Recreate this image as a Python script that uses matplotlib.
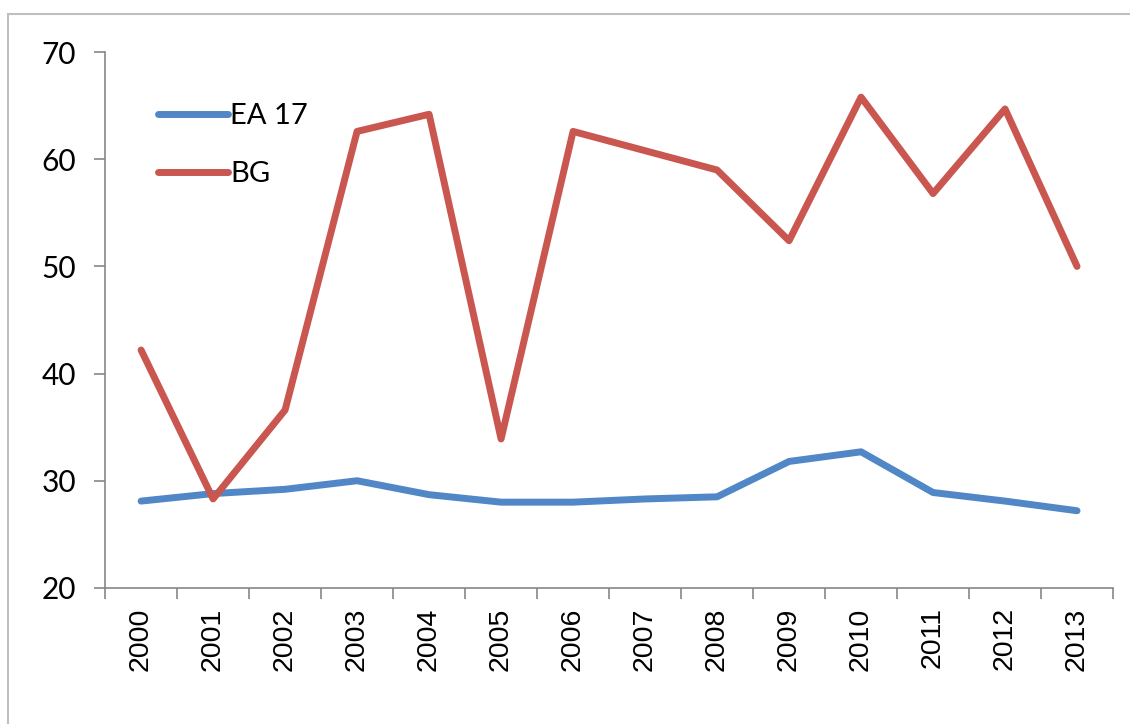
import matplotlib
matplotlib.use("Agg")
import matplotlib.pyplot as plt
from matplotlib.patches import Rectangle

years = ["2000", "2001", "2002", "2003", "2004", "2005", "2006",
         "2007", "2008", "2009", "2010", "2011", "2012", "2013"]
ea17 = [28.1, 28.8, 29.2, 30.0, 28.7, 28.0, 28.0, 28.3, 28.5, 31.8, 32.7, 28.9, 28.1, 27.2]
bg = [42.2, 28.3, 36.6, 62.6, 64.2, 33.9, 62.6, 60.8, 59.0, 52.4, 65.8, 56.8, 64.7, 50.0]

blue = "#5187C6"
red = "#C95750"
grey = "#868686"

fig = plt.figure(figsize=(11.30, 7.24), dpi=100)
ax = fig.add_axes([0.093, 0.188, 0.892, 0.740])

x = range(len(years))
ax.plot(x, ea17, color=blue, lw=5, label="EA 17", solid_joinstyle="round", solid_capstyle="round")
ax.plot(x, bg, color=red, lw=5, label="BG", solid_joinstyle="round", solid_capstyle="round")

ax.set_xlim(-0.5, len(years) - 0.5)
ax.set_ylim(20, 70)
ax.set_yticks([20, 30, 40, 50, 60, 70])

# category ticks sit between the years, labels at the centres
ax.set_xticks([i - 0.5 for i in range(len(years) + 1)])
ax.set_xticklabels([])
ax.set_xticks(list(x), minor=True)
ax.set_xticklabels(years, minor=True, rotation=90, fontsize=20.5,
                   family=["Liberation Sans", "DejaVu Sans"])
ax.tick_params(axis="x", which="minor", length=0, pad=14)
ax.tick_params(axis="x", which="major", length=8, width=1.2, color=grey, direction="out")
ax.tick_params(axis="y", length=8, width=1.2, color=grey, direction="out", pad=13)
for lbl in ax.get_yticklabels():
    lbl.set_fontsize(21.5)
    lbl.set_family(["Lato", "DejaVu Sans"])

for side in ["top", "right"]:
    ax.spines[side].set_visible(False)
for side in ["left", "bottom"]:
    ax.spines[side].set_color(grey)
    ax.spines[side].set_linewidth(1.2)

leg = ax.legend(loc="upper left", bbox_to_anchor=(0.052, 0.905), frameon=False,
                borderpad=0, borderaxespad=0, handlelength=2.4, handletextpad=0.1,
                labelspacing=1.1, prop={"family": ["Lato", "DejaVu Sans"], "size": 21})

# outer chart frame
fig.patches.append(Rectangle((8 / 1130, -0.1), 1.2, 1.1 - 14 / 724, transform=fig.transFigure,
                             fill=False, edgecolor="#BFBFBF", lw=1.5, clip_on=False))

fig.savefig("out.png", dpi=100)
